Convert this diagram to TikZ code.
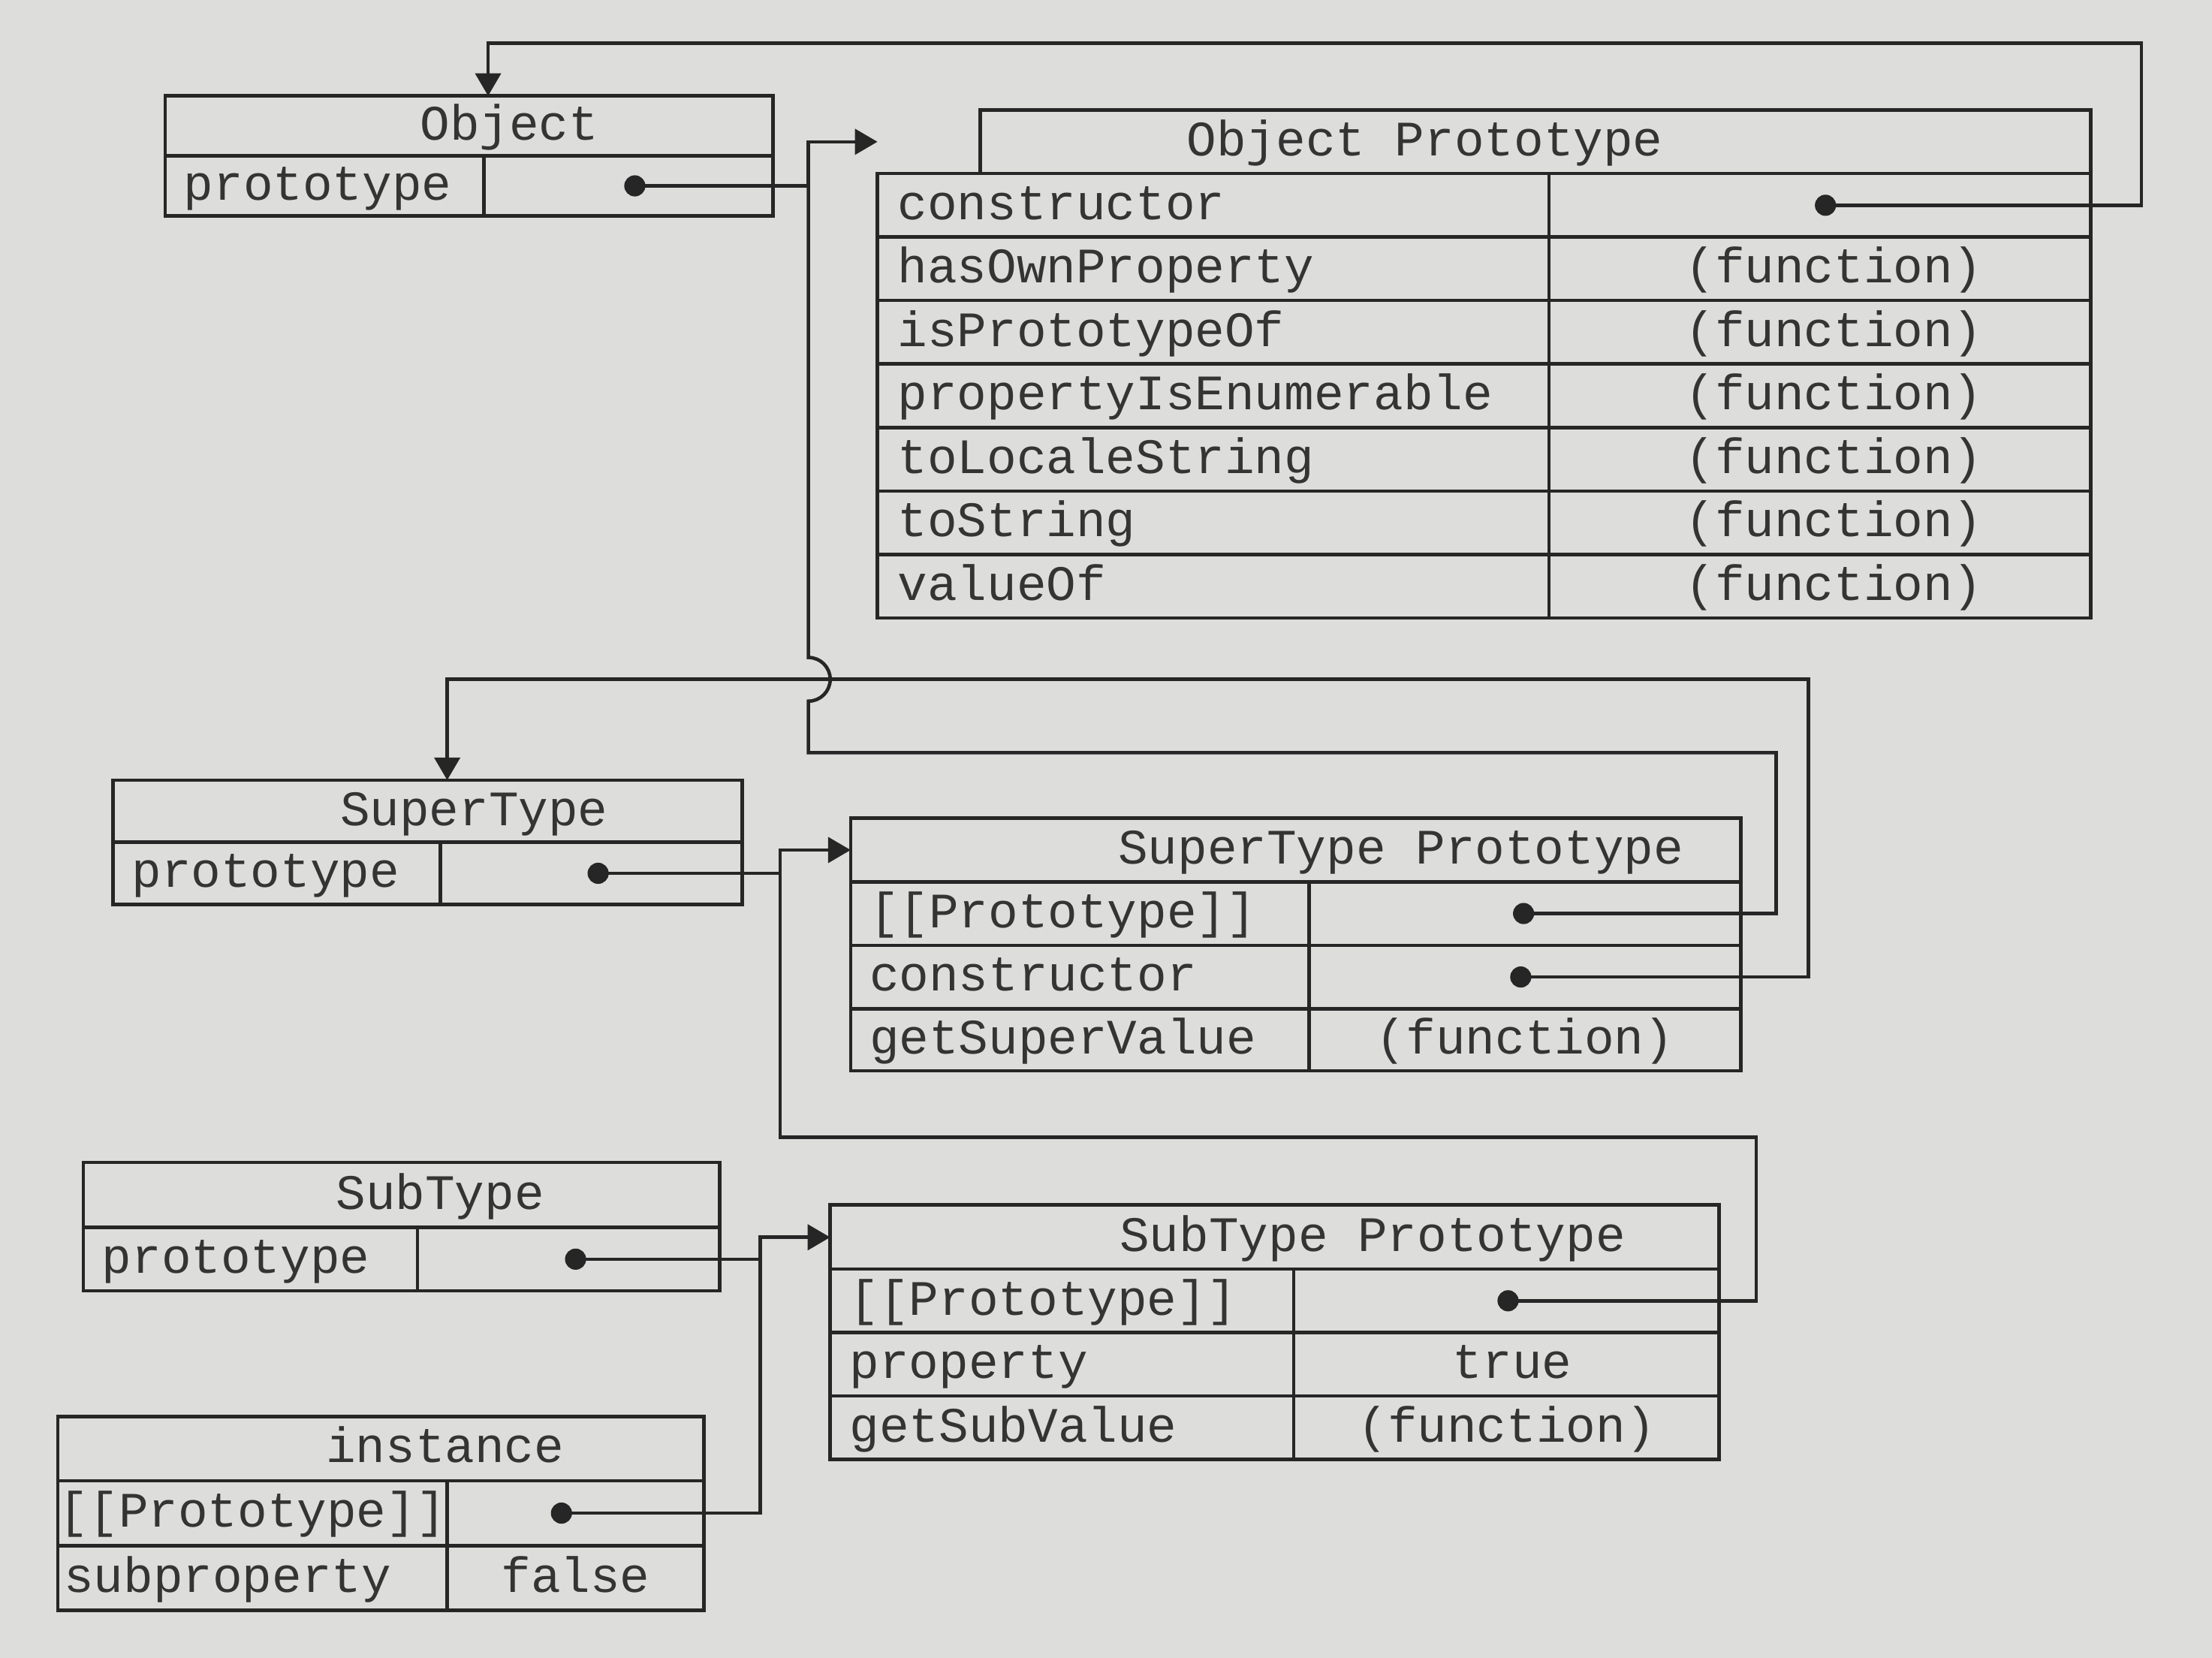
\documentclass[tikz,border=0pt]{standalone}
\usepackage{fontspec}
\newfontfamily\codefont{Liberation Mono}
\usetikzlibrary{arrows.meta,fit}
\definecolor{bg}{RGB}{221,221,219}
\definecolor{ink}{RGB}{38,38,38}
\definecolor{txt}{RGB}{52,52,52}
\begin{document}
\begin{tikzpicture}[x=0.02cm,y=-0.02cm,
  box/.style={draw=ink, line width=1.4pt, inner sep=0pt},
  conn/.style={draw=ink, line width=1.4pt},
  arr/.style={conn, -{Triangle[length=0.32cm,width=0.36cm]}},
  dotn/.style={circle, fill=ink, inner sep=0pt, minimum size=0.3cm},
  lbl/.style={font=\codefont\fontsize{20}{24}\selectfont, text=txt, inner sep=0pt, anchor=base west},
  ttl/.style={font=\codefont\fontsize{20}{24}\selectfont, text=txt, inner sep=0pt, anchor=base}]
\fill[bg] (0,0) rectangle (1568,1175);
\useasboundingbox (0,0) rectangle (1568,1175);

% ---------- Object ----------
\node[box, fit={(117,68)(548,110.5)}] (obj-h) {};
\node[box, fit={(117,110.5)(343,153)}] (obj-k) {};
\node[box, fit={(343,110.5)(548,153)}] (obj-v) {};
\node[ttl] (obj-ht) at (361,99.25) {Object};
\node[lbl] (obj-kt) at (130,141.75) {prototype};
\node[dotn] (obj-d) at (450,131.75) {};
\coordinate (obj-in) at (346,68);

% ---------- Object Prototype ----------
\node[box, fit={(695,78)(1482,123)}] (op-h) {};
\node[ttl] (op-ht) at (1010,110.5) {Object Prototype};
\node[box, fit={(622,123)(1098,168)}] (op-k1) {};
\node[box, fit={(1098,123)(1482,168)}] (op-v1) {};
\node[box, fit={(622,168)(1098,213)}] (op-k2) {};
\node[box, fit={(1098,168)(1482,213)}] (op-v2) {};
\node[box, fit={(622,213)(1098,258)}] (op-k3) {};
\node[box, fit={(1098,213)(1482,258)}] (op-v3) {};
\node[box, fit={(622,258)(1098,303)}] (op-k4) {};
\node[box, fit={(1098,258)(1482,303)}] (op-v4) {};
\node[box, fit={(622,303)(1098,348)}] (op-k5) {};
\node[box, fit={(1098,303)(1482,348)}] (op-v5) {};
\node[box, fit={(622,348)(1098,393)}] (op-k6) {};
\node[box, fit={(1098,348)(1482,393)}] (op-v6) {};
\node[box, fit={(622,393)(1098,438)}] (op-k7) {};
\node[box, fit={(1098,393)(1482,438)}] (op-v7) {};
\node[lbl] (op-t1) at (636,155.5) {constructor};
\node[lbl] (op-t2) at (636,200.5) {hasOwnProperty};
\node[lbl] (op-t3) at (636,245.5) {isPrototypeOf};
\node[lbl] (op-t4) at (636,290.5) {propertyIsEnumerable};
\node[lbl] (op-t5) at (636,335.5) {toLocaleString};
\node[lbl] (op-t6) at (636,380.5) {toString};
\node[lbl] (op-t7) at (636,425.5) {valueOf};
\node[ttl] (op-f2) at (1300,200.5) {(function)};
\node[ttl] (op-f3) at (1300,245.5) {(function)};
\node[ttl] (op-f4) at (1300,290.5) {(function)};
\node[ttl] (op-f5) at (1300,335.5) {(function)};
\node[ttl] (op-f6) at (1300,380.5) {(function)};
\node[ttl] (op-f7) at (1300,425.5) {(function)};
\node[dotn] (op-d) at (1294,145.5) {};
\coordinate (op-in) at (622,100.5);

% ---------- SuperType ----------
\node[box, fit={(80,553)(526,597)}] (st-h) {};
\node[box, fit={(80,597)(312,641)}] (st-k) {};
\node[box, fit={(312,597)(526,641)}] (st-v) {};
\node[ttl] (st-ht) at (336,585) {SuperType};
\node[lbl] (st-kt) at (93,629) {prototype};
\node[dotn] (st-d) at (424,619) {};
\coordinate (st-in) at (317,553);

% ---------- SuperType Prototype ----------
\node[box, fit={(603,580)(1234,625)}] (stp-h) {};
\node[box, fit={(603,625)(928,670)}] (stp-k1) {};
\node[box, fit={(928,625)(1234,670)}] (stp-v1) {};
\node[box, fit={(603,670)(928,715)}] (stp-k2) {};
\node[box, fit={(928,670)(1234,715)}] (stp-v2) {};
\node[box, fit={(603,715)(928,759)}] (stp-k3) {};
\node[box, fit={(928,715)(1234,759)}] (stp-v3) {};
\node[ttl] (stp-ht) at (993,612.5) {SuperType Prototype};
\node[lbl] (stp-t1) at (616,657.5) {[[Prototype]]};
\node[lbl] (stp-t2) at (616,702.5) {constructor};
\node[lbl] (stp-t3) at (616,747) {getSuperValue};
\node[ttl] (stp-f3) at (1081,747) {(function)};
\node[dotn] (stp-d1) at (1080,647.5) {};
\node[dotn] (stp-d2) at (1078,692.5) {};
\coordinate (stp-in) at (603,602.5);

% ---------- SubType ----------
\node[box, fit={(59,824)(510,870)}] (sb-h) {};
\node[box, fit={(59,870)(296,915)}] (sb-k) {};
\node[box, fit={(296,870)(510,915)}] (sb-v) {};
\node[ttl] (sb-ht) at (312,857) {SubType};
\node[lbl] (sb-kt) at (72,902.5) {prototype};
\node[dotn] (sb-d) at (408,892.5) {};

% ---------- SubType Prototype ----------
\node[box, fit={(588.5,854)(1218.5,899.5)}] (sbp-h) {};
\node[box, fit={(588.5,899.5)(917,944.5)}] (sbp-k1) {};
\node[box, fit={(917,899.5)(1218.5,944.5)}] (sbp-v1) {};
\node[box, fit={(588.5,944.5)(917,989.5)}] (sbp-k2) {};
\node[box, fit={(917,944.5)(1218.5,989.5)}] (sbp-v2) {};
\node[box, fit={(588.5,989.5)(917,1034.5)}] (sbp-k3) {};
\node[box, fit={(917,989.5)(1218.5,1034.5)}] (sbp-v3) {};
\node[ttl] (sbp-ht) at (973,887) {SubType Prototype};
\node[lbl] (sbp-t1) at (602,932) {[[Prototype]]};
\node[lbl] (sbp-t2) at (602,977) {property};
\node[lbl] (sbp-t3) at (602,1022) {getSubValue};
\node[ttl] (sbp-f2) at (1072,977) {true};
\node[ttl] (sbp-f3) at (1068,1022) {(function)};
\node[dotn] (sbp-d) at (1069,922) {};
\coordinate (sbp-in) at (588.5,877);

% ---------- instance ----------
\node[box, fit={(41,1004)(499,1049.5)}] (in-h) {};
\node[box, fit={(41,1049.5)(317,1095.5)}] (in-k1) {};
\node[box, fit={(317,1049.5)(499,1095.5)}] (in-v1) {};
\node[box, fit={(41,1095.5)(317,1141.5)}] (in-k2) {};
\node[box, fit={(317,1095.5)(499,1141.5)}] (in-v2) {};
\node[ttl] (in-ht) at (315.5,1036.75) {instance};
\node[ttl] (in-t1) at (179,1082.5) {[[Prototype]]};
\node[lbl] (in-t2) at (45,1128.5) {subproperty};
\node[ttl] (in-f2) at (408,1128.5) {false};
\node[dotn] (in-d) at (398,1072.5) {};

% ---------- junctions ----------
\coordinate (j1) at (573,131.75);
\coordinate (j3) at (553,619);
\coordinate (j6) at (539,892.5);

% ---------- connectors ----------
\draw[arr] (obj-d.center) -- (j1) |- (op-in);
\draw[arr] (op-d.center) -- (1518,145.5) -- (1518,30.5) -| (obj-in);
\draw[arr] (stp-d2.center) -- (1282,692.5) -- (1282,481.5) -| (st-in);
\draw[conn] (stp-d1.center) -- (1259,647.5) -- (1259,533.5) -- (573,533.5) -- (573,497)
   arc[start angle=-90,end angle=90,radius=0.31cm] -- (j1);
\draw[arr] (st-d.center) -- (j3) |- (stp-in);
\draw[conn] (sbp-d.center) -- (1245,922) -- (1245,806) -- (553,806) -- (j3);
\draw[arr] (sb-d.center) -- (j6) |- (sbp-in);
\draw[conn] (in-d.center) -- (539,1072.5) -- (j6);
\end{tikzpicture}
\end{document}
